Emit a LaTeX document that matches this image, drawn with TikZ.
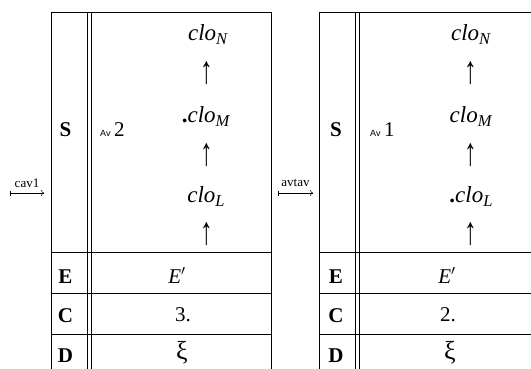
\documentclass[tikz,border=0pt]{standalone}
\usepackage{fontspec}
\usepackage{graphicx}
\setmainfont{Liberation Serif}
\newfontfamily\avfont{Liberation Sans}
\usetikzlibrary{arrows.meta}
\newcommand\closub[1]{\textit{clo}\raisebox{-4pt}{\fontsize{16.5}{16.5}\selectfont\textit{#1}}}
\newcommand\avtag[1]{{\avfont\fontsize{9}{9}\selectfont Av}\,#1}
\newcommand\tdot{\textbf{.}}
\newcommand\uparr{\scalebox{1.1}[1.7]{↑}}
\begin{document}
\begin{tikzpicture}[x=1pt,y=-1pt,
  rule/.style={line width=0.9pt},
  big/.style={font=\fontsize{21}{25}\selectfont, inner sep=0pt, anchor=base},
  xi/.style={font=\fontsize{26}{30}\selectfont, inner sep=0pt, anchor=base},
  cloty/.style={font=\fontsize{23}{27}\selectfont, inner sep=0pt, anchor=base},
  hdr/.style={font=\fontsize{21}{25}\selectfont\bfseries, inner sep=0pt, anchor=base},
  lbl/.style={font=\fontsize{13}{15}\selectfont, inner sep=0pt, anchor=base},
  maparrow/.style={line width=0.5pt, {Bar[width=5pt,line width=0.5pt]}-{To[length=3pt,width=6pt]}}
]
\useasboundingbox (0,0) rectangle (531,369);
\fill[white] (0,0) rectangle (531,369);
% table 1 rules
\draw[rule] (51,12) -- (51,380) (87.3,12) -- (87.3,380) (91,12) -- (91,380) (271,12) -- (271,380);
\draw[rule] (51,12) -- (271,12) (51,252) -- (271,252) (51,293) -- (271,293) (51,334) -- (271,334);
% table 2 rules
\draw[rule] (319.5,12) -- (319.5,380) (355.7,12) -- (355.7,380) (359.2,12) -- (359.2,380);
\draw[rule] (319.5,12) -- (545,12) (319.5,252) -- (545,252) (319.5,293) -- (545,293) (319.5,334) -- (545,334);
% table 1 content
\node[hdr] (s1) at (65.5,137) {S};
\node[big, anchor=base west] (av1) at (100,137) {\avtag{2}};
\node[cloty] (n1) at (208,41) {\closub{N}};
\node[cloty] (u1a) at (207,84) {\uparr};
\node[cloty] (m1) at (206,123) {\tdot\closub{M}};
\node[cloty] (u1b) at (207,165) {\uparr};
\node[cloty] (l1) at (206,203) {\closub{L}};
\node[cloty] (u1c) at (207,244) {\uparr};
\node[hdr] (e1h) at (65.5,283) {E};
\node[big] (e1) at (177,283) {\textit{E}$'$};
\node[hdr] (c1h) at (65.5,322) {C};
\node[big] (c1) at (183,321) {3.};
\node[hdr] (d1h) at (65.5,362) {D};
\node[xi] (x1) at (182,359) {ξ};
% table 2 content
\node[hdr] (s2) at (336,137) {S};
\node[big, anchor=base west] (av2) at (370,137) {\avtag{1}};
\node[cloty] (n2) at (471,41) {\closub{N}};
\node[cloty] (u2a) at (471,84) {\uparr};
\node[cloty] (m2) at (471,123) {\closub{M}};
\node[cloty] (u2b) at (471,165) {\uparr};
\node[cloty] (l2) at (471,203) {\tdot\closub{L}};
\node[cloty] (u2c) at (471,244) {\uparr};
\node[hdr] (e2h) at (336,283) {E};
\node[big] (e2) at (447,283) {\textit{E}$'$};
\node[hdr] (c2h) at (336,322) {C};
\node[big] (c2) at (448,321) {2.};
\node[hdr] (d2h) at (336,362) {D};
\node[xi] (x2) at (450,359) {ξ};
% map arrows
\coordinate (a1s) at (10,193);
\coordinate (a1e) at (44,193);
\draw[maparrow] (a1s) -- (a1e);
\node[lbl] (t1) at (27,187) {cav1};
\coordinate (a2s) at (278,193);
\coordinate (a2e) at (313,193);
\draw[maparrow] (a2s) -- (a2e);
\node[lbl] (t2) at (295.5,186) {avtav};
\end{tikzpicture}
\end{document}
